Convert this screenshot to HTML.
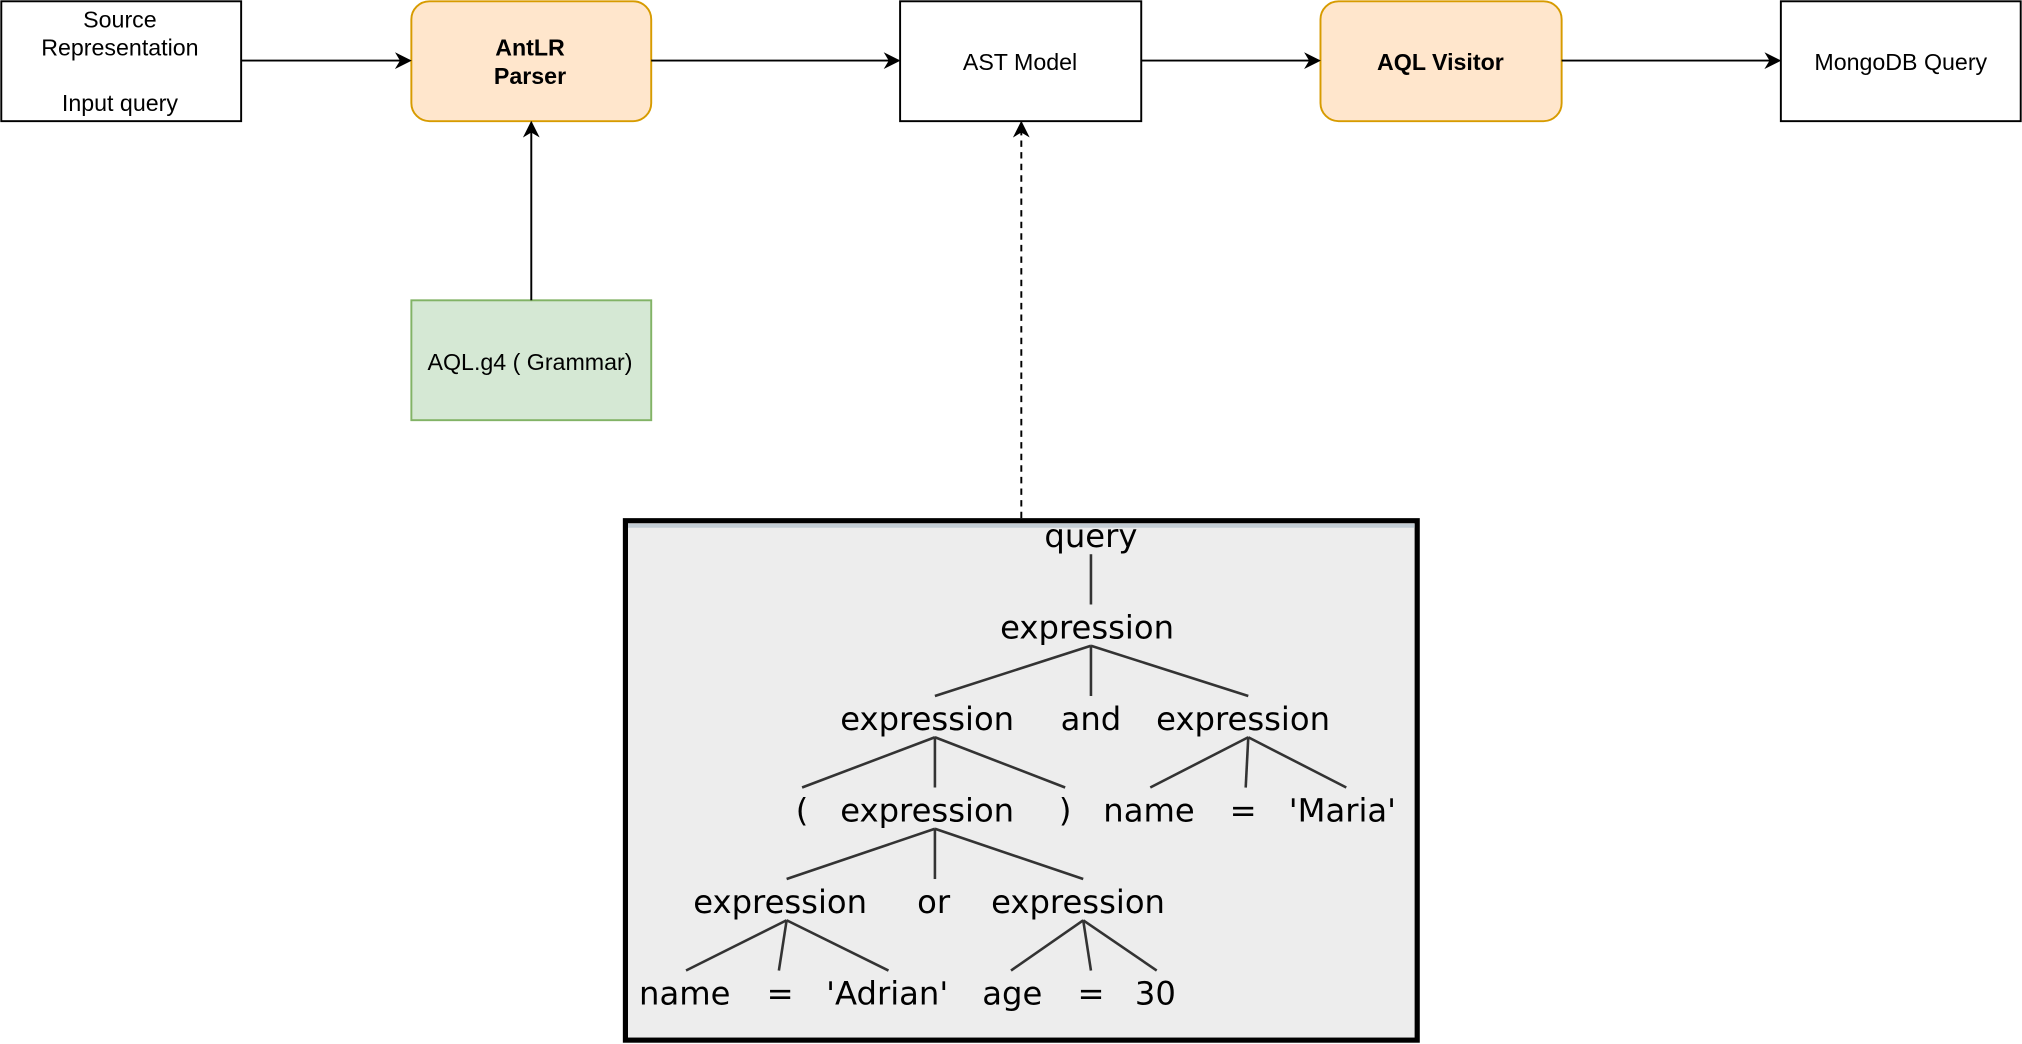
<!DOCTYPE html>
<html><head><meta charset="utf-8"><style>html,body{margin:0;padding:0;background:#fff}svg{display:block}</style></head>
<body>
<svg width="2022" height="1044" viewBox="0 0 1568 810" preserveAspectRatio="none" xmlns="http://www.w3.org/2000/svg">
<defs><marker id="a" viewBox="0 0 10 10" refX="9" refY="5" markerWidth="13" markerHeight="13" markerUnits="userSpaceOnUse" orient="auto"><path d="M0,0 L10,5 L0,10 L3,5 z" fill="#000"/></marker></defs>
<g font-family="Liberation Sans, sans-serif" font-size="18" text-anchor="middle" dominant-baseline="central">
<rect x="1" y="1" width="186" height="93" fill="#fff" stroke="#000" stroke-width="1.5"/>
<text x="93" y="15">Source</text><text x="93" y="37">Representation</text><text x="93" y="80">Input query</text>
<rect x="319" y="1" width="186" height="93" rx="14" fill="#ffe6cc" stroke="#d79b00" stroke-width="1.5"/>
<text x="411" y="37" font-weight="bold">AntLR</text><text x="411" y="59" font-weight="bold">Parser</text>
<rect x="698" y="1" width="187" height="93" fill="#fff" stroke="#000" stroke-width="1.5"/>
<text x="791" y="48">AST Model</text>
<rect x="1024" y="1" width="187" height="93" rx="14" fill="#ffe6cc" stroke="#d79b00" stroke-width="1.5"/>
<text x="1117" y="48" font-weight="bold">AQL Visitor</text>
<rect x="1381" y="1" width="186" height="93" fill="#fff" stroke="#000" stroke-width="1.5"/>
<text x="1474" y="48">MongoDB Query</text>
<rect x="319" y="233" width="186" height="93" fill="#d5e8d4" stroke="#82b366" stroke-width="1.5"/>
<text x="411" y="281">AQL.g4 ( Grammar)</text>
</g>
<g stroke="#000" stroke-width="1.5" fill="none">
<line x1="187" y1="47" x2="318" y2="47" marker-end="url(#a)"/>
<line x1="505" y1="47" x2="697" y2="47" marker-end="url(#a)"/>
<line x1="885" y1="47" x2="1023" y2="47" marker-end="url(#a)"/>
<line x1="1211" y1="47" x2="1380" y2="47" marker-end="url(#a)"/>
<line x1="412" y1="233" x2="412" y2="95" marker-end="url(#a)"/>
<line x1="792" y1="402" x2="792" y2="95" stroke-dasharray="5,4" marker-end="url(#a)"/>
</g>
<rect x="485" y="404" width="614" height="403" fill="#ededed" stroke="#000" stroke-width="4"/>
<line x1="487" y1="408" x2="1097" y2="408" stroke="#c3cdd5" stroke-width="3"/>
<g stroke="#333" stroke-width="2">
<line x1="846" y1="430" x2="846" y2="469"/>
<line x1="846" y1="501" x2="725" y2="540"/><line x1="846" y1="501" x2="846" y2="540"/><line x1="846" y1="501" x2="968" y2="540"/>
<line x1="725" y1="572" x2="622" y2="611"/><line x1="725" y1="572" x2="725" y2="611"/><line x1="725" y1="572" x2="826" y2="611"/>
<line x1="968" y1="572" x2="892" y2="611"/><line x1="968" y1="572" x2="966" y2="611"/><line x1="968" y1="572" x2="1044" y2="611"/>
<line x1="725" y1="643" x2="610" y2="682"/><line x1="725" y1="643" x2="725" y2="682"/><line x1="725" y1="643" x2="840" y2="682"/>
<line x1="610" y1="714" x2="532" y2="753"/><line x1="610" y1="714" x2="604" y2="753"/><line x1="610" y1="714" x2="689" y2="753"/>
<line x1="840" y1="714" x2="784" y2="753"/><line x1="840" y1="714" x2="846" y2="753"/><line x1="840" y1="714" x2="897" y2="753"/>
</g>
<g font-family="DejaVu Sans, sans-serif" font-size="25" text-anchor="middle" dominant-baseline="central" fill="#000">
<text x="846" y="416">query</text>
<text x="843" y="487">expression</text>
<text x="719" y="558">expression</text><text x="846" y="558">and</text><text x="964" y="558">expression</text>
<text x="622" y="629">(</text><text x="719" y="629">expression</text><text x="826" y="629">)</text><text x="891" y="629">name</text><text x="964" y="629">=</text><text x="1041" y="629">'Maria'</text>
<text x="605" y="700">expression</text><text x="724" y="700">or</text><text x="836" y="700">expression</text>
<text x="531" y="771">name</text><text x="605" y="771">=</text><text x="688" y="771">'Adrian'</text><text x="785" y="771">age</text><text x="846" y="771">=</text><text x="896" y="771">30</text>
</g>
</svg>
</body></html>
